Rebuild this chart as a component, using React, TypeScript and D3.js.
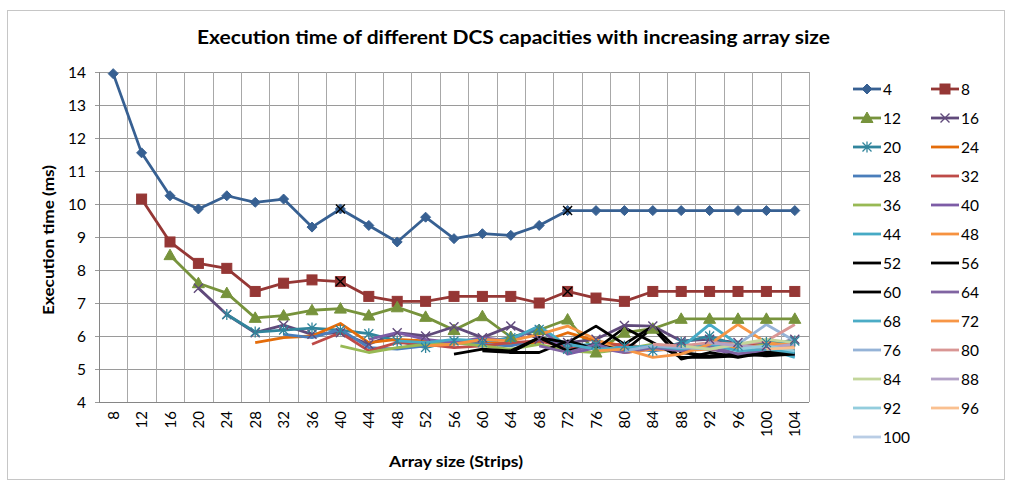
import React from "react";
import * as d3 from "d3";

const categories = [8, 12, 16, 20, 24, 28, 32, 36, 40, 44, 48, 52, 56, 60, 64, 68, 72, 76, 80, 84, 88, 92, 96, 100, 104];
const yTicks = [4, 5, 6, 7, 8, 9, 10, 11, 12, 13, 14];

// Each series: capacity label, first array size, values from that array size onward
const s4 = [13.95, 11.55, 10.25, 9.85, 10.25, 10.05, 10.15, 9.3, 9.85, 9.35, 8.85, 9.6, 8.95, 9.1, 9.05, 9.35, 9.8, 9.8, 9.8, 9.8, 9.8, 9.8, 9.8, 9.8, 9.8];
const s8 = [10.15, 8.85, 8.2, 8.05, 7.35, 7.6, 7.7, 7.65, 7.2, 7.05, 7.05, 7.2, 7.2, 7.2, 7.0, 7.35, 7.15, 7.05, 7.35, 7.35, 7.35, 7.35, 7.35, 7.35];
const s12 = [8.45, 7.6, 7.3, 6.55, 6.62, 6.78, 6.83, 6.62, 6.87, 6.58, 6.18, 6.6, 5.97, 6.18, 6.5, 5.5, 6.1, 6.22, 6.52, 6.52, 6.52, 6.52, 6.52];
const s16 = [7.45, 6.65, 6.1, 6.33, 6.05, 6.1, 5.75, 6.1, 6.0, 6.28, 5.95, 6.3, 5.9, 5.8, 5.9, 6.32, 6.3, 5.85, 5.9, 5.8, 5.7, 5.9];
const s20 = [6.65, 6.12, 6.18, 6.24, 6.18, 6.07, 5.85, 5.65, 5.85, 5.8, 5.95, 6.2, 5.6, 5.75, 5.7, 5.55, 5.8, 6.0, 5.7, 5.8, 5.85];
const s24 = [5.8, 5.95, 6.0, 6.38, 5.8, 5.9, 5.85, 5.8, 5.85, 5.75, 5.8, 6.1, 5.85, 5.7, 5.65, 5.7, 5.6, 5.65, 5.7, 5.6];
const s28 = [6.05, 5.95, 6.2, 5.65, 5.6, 5.7, 5.8, 5.75, 5.7, 5.9, 5.75, 5.6, 5.7, 5.55, 5.65, 5.6, 5.7, 5.65, 5.55];
const s32 = [5.75, 6.1, 5.55, 5.8, 5.75, 5.65, 5.7, 5.8, 5.85, 5.65, 5.7, 5.75, 5.6, 5.75, 5.65, 5.8, 5.7, 5.75];
const s36 = [5.7, 5.5, 5.65, 5.75, 5.8, 5.7, 5.6, 5.75, 5.55, 5.5, 5.6, 5.75, 5.65, 5.7, 5.6, 5.75, 5.7];
const s40 = [5.9, 6.1, 5.9, 5.8, 5.95, 5.85, 6.3, 5.45, 5.65, 5.5, 5.6, 5.75, 5.6, 5.45, 5.55, 5.4];
const s44 = [5.85, 5.8, 5.9, 5.85, 5.9, 6.3, 5.7, 5.75, 5.6, 5.7, 5.65, 6.35, 5.75, 5.6, 5.35];
const s48 = [5.7, 5.75, 5.9, 5.85, 6.05, 6.3, 5.9, 5.5, 5.6, 5.55, 5.6, 5.65, 5.7, 5.75];
const s52 = [5.45, 5.6, 5.55, 5.95, 5.8, 6.3, 5.75, 6.3, 5.5, 5.4, 5.45, 5.4, 5.45];
const s56 = [5.55, 5.5, 5.5, 5.85, 5.6, 6.25, 5.8, 5.35, 5.35, 5.4, 5.45, 5.5];
const s60 = [5.5, 5.95, 5.55, 5.75, 5.55, 6.25, 5.3, 5.5, 5.35, 5.5, 5.55];
const s64 = [5.7, 5.5, 5.75, 5.5, 5.65, 5.55, 5.7, 5.45, 5.6, 5.65];
const s68 = [5.75, 5.6, 5.65, 5.7, 5.6, 5.75, 5.55, 5.6, 5.5];
const s72 = [5.55, 5.6, 5.35, 5.45, 5.75, 6.35, 5.8, 5.7];
const s76 = [5.55, 5.7, 5.65, 5.6, 5.75, 6.35, 5.85];
const s80 = [5.75, 5.7, 5.8, 5.75, 5.85, 6.35];
const s84 = [5.7, 5.6, 5.75, 5.9, 5.8];
const s88 = [5.8, 5.7, 5.65, 5.75];
const s92 = [5.6, 5.7, 5.55];
const s96 = [5.6, 5.65];
const s100 = [5.75];

const seriesLabels = ["4", "8", "12", "16", "20", "24", "28", "32", "36", "40", "44", "48", "52", "56", "60", "64", "68", "72", "76", "80", "84", "88", "92", "96", "100"];
const seriesStart = [8, 12, 16, 20, 24, 28, 32, 36, 40, 44, 48, 52, 56, 60, 64, 68, 72, 76, 80, 84, 88, 92, 96, 100, 104];
const seriesValues = [s4, s8, s12, s16, s20, s24, s28, s32, s36, s40, s44, s48, s52, s56, s60, s64, s68, s72, s76, s80, s84, s88, s92, s96, s100];
const seriesColors = [
  "#376092", "#953735", "#77933C", "#604A7B", "#31859C", "#E46C0A",
  "#4A7EBB", "#BE4B48", "#98B954", "#7D5CA6", "#46AAC5", "#F69240",
  "#000000", "#000000", "#000000", "#8064A2", "#4BACC6", "#F79646",
  "#95B3D7", "#D99694", "#C3D69B", "#B3A2C7", "#93CDDD", "#FAC090", "#B9CDE5",
];
const seriesMarkers = ["diamond", "square", "triangle", "x", "star", "", "", "", "", "", "", "", "", "", "", "", "", "", "", "", "", "", "", "", ""];

// highlighted points (black crosses) on series "4" and "8"
const crossSeries = [0, 0, 1, 1];
const crossAt = [40, 72, 40, 72];

const W = 1009;
const H = 484;
const FONT = "Lato, 'Open Sans', sans-serif";

function Marker({ kind, cx, cy, color }: { kind: string; cx: number; cy: number; color: string }) {
  if (kind === "diamond") {
    const r = 5;
    return <path d={`M${cx},${cy - r}L${cx + r},${cy}L${cx},${cy + r}L${cx - r},${cy}Z`} fill={color} stroke={color} strokeWidth={1} />;
  }
  if (kind === "square") {
    const r = 5;
    return <rect x={cx - r} y={cy - r} width={2 * r} height={2 * r} fill={color} stroke={color} strokeWidth={1} />;
  }
  if (kind === "triangle") {
    const r = 6;
    return <path d={`M${cx},${cy - r}L${cx + r},${cy + r * 0.75}L${cx - r},${cy + r * 0.75}Z`} fill={color} stroke={color} strokeWidth={1} />;
  }
  if (kind === "x") {
    const r = 4.5;
    return <path d={`M${cx - r},${cy - r}L${cx + r},${cy + r}M${cx - r},${cy + r}L${cx + r},${cy - r}`} stroke={color} strokeWidth={1.4} fill="none" />;
  }
  if (kind === "star") {
    const r = 4.5;
    return <path d={`M${cx - r},${cy - r}L${cx + r},${cy + r}M${cx - r},${cy + r}L${cx + r},${cy - r}M${cx},${cy - r - 1}L${cx},${cy + r + 1}`} stroke={color} strokeWidth={1.3} fill="none" />;
  }
  return null;
}

export default function App() {
  const plotL = 99, plotR = 809, plotT = 72, plotB = 402;
  const x = d3.scaleBand<number>().domain(categories).range([plotL, plotR]).paddingInner(0).paddingOuter(0);
  const y = d3.scaleLinear().domain([4, 14]).range([plotB, plotT]);
  const cx = (c: number) => (x(c) as number) + x.bandwidth() / 2;

  const line = d3.line<[number, number]>().x((d) => cx(d[0])).y((d) => y(d[1]));

  const seriesPts = seriesValues.map((vals, i) => {
    const start = categories.indexOf(seriesStart[i]);
    return vals.map((v, j) => [categories[start + j], v] as [number, number]);
  });

  const boundaries = categories.map((c) => x(c) as number).concat([plotR]);

  const legendRowH = 29;
  const legendTop = 89;
  const legendCols = [853, 931];

  return (
    <svg width={W} height={H} style={{ position: "absolute", left: 0, top: 0, background: "#fff" }} fontFamily={FONT}>
      <rect x={7.5} y={10.5} width={997} height={469} fill="#fff" stroke="#c6c6c6" strokeWidth={1} />
      <text x={513.5} y={44} textAnchor="middle" fontSize={19.5} fontWeight="bold" fill="#000" textLength={633} lengthAdjust="spacingAndGlyphs">
        Execution time of different DCS capacities with increasing array size
      </text>

      {/* grid */}
      {yTicks.map((t) => (
        <line key={"h" + t} x1={plotL - 4} x2={plotR} y1={Math.round(y(t)) + 0.5} y2={Math.round(y(t)) + 0.5} stroke="#9a9a9a" strokeWidth={1} />
      ))}
      {boundaries.map((b, i) => (
        <line key={"v" + i} x1={Math.round(b) + 0.5} x2={Math.round(b) + 0.5} y1={plotT} y2={plotB} stroke="#a8a8a8" strokeWidth={1} />
      ))}
      <line x1={plotL + 0.5} x2={plotL + 0.5} y1={plotT} y2={plotB} stroke="#868686" />
      <line x1={plotL} x2={plotR} y1={plotB + 0.5} y2={plotB + 0.5} stroke="#868686" />

      {/* y tick labels */}
      {yTicks.map((t) => (
        <text key={"yl" + t} x={86} y={y(t) + 5.5} textAnchor="end" fontSize={15.5} fill="#000">
          {t}
        </text>
      ))}
      {/* x tick labels */}
      {categories.map((c) => (
        <text key={"xl" + c} transform={`translate(${cx(c) + 5.5},${411}) rotate(-90)`} textAnchor="end" fontSize={15} fill="#000">
          {c}
        </text>
      ))}
      <text x={456} y={467} textAnchor="middle" fontSize={16} fontWeight="bold" fill="#000" textLength={134} lengthAdjust="spacingAndGlyphs">
        Array size (Strips)
      </text>
      <text transform={`translate(54,240) rotate(-90)`} textAnchor="middle" fontSize={16} fontWeight="bold" fill="#000" textLength={150} lengthAdjust="spacingAndGlyphs">
        Execution time (ms)
      </text>

      {/* series lines */}
      <g>
        {seriesPts.map((pts, i) => (
          <path key={"s" + i} d={line(pts) || ""} fill="none" stroke={seriesColors[i]} strokeWidth={2.8} strokeLinejoin="round" />
        ))}
        {seriesPts.map((pts, i) =>
          seriesMarkers[i]
            ? pts.map((p, j) => <Marker key={"m" + i + "_" + j} kind={seriesMarkers[i]} cx={cx(p[0])} cy={y(p[1])} color={seriesColors[i]} />)
            : null
        )}
        {crossAt.map((c, k) => {
          const si = crossSeries[k];
          const pt = seriesPts[si].find((p) => p[0] === c);
          if (!pt) return null;
          return <Marker key={"cx" + k} kind="x" cx={cx(pt[0])} cy={y(pt[1])} color="#000" />;
        })}
      </g>

      {/* legend */}
      {seriesLabels.map((lab, i) => {
        const col = i % 2;
        const row = Math.floor(i / 2);
        const lx = legendCols[col];
        const ly = legendTop + row * legendRowH;
        return (
          <g key={"lg" + i}>
            <line x1={lx} x2={lx + 28} y1={ly} y2={ly} stroke={seriesColors[i]} strokeWidth={2.8} />
            {seriesMarkers[i] ? <Marker kind={seriesMarkers[i]} cx={lx + 14} cy={ly} color={seriesColors[i]} /> : null}
            <text x={lx + 30} y={ly + 5.5} fontSize={15.5} fill="#000">
              {lab}
            </text>
          </g>
        );
      })}
    </svg>
  );
}
